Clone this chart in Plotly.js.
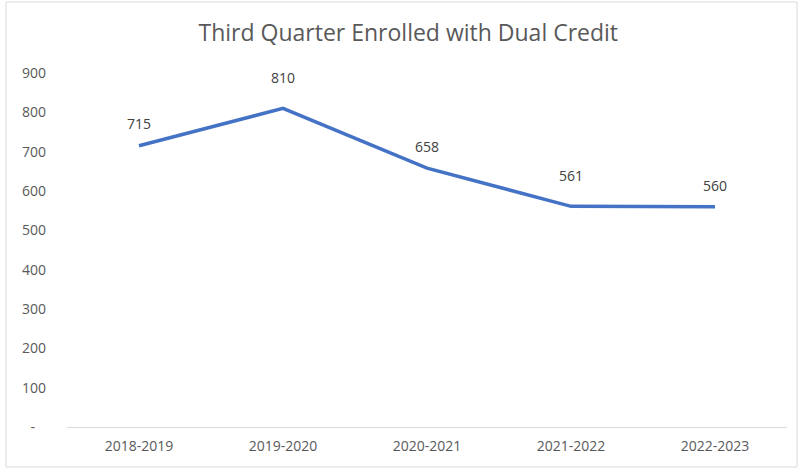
<!DOCTYPE html>
<html><head><meta charset="utf-8">
<script src="https://cdn.plot.ly/plotly-3.0.1.min.js"></script>
<style>html,body{margin:0;padding:0;background:#fff;}#chart{width:799px;height:469px;}</style>
</head><body><div id="chart"></div>
<script>
const categories = ["2018-2019","2019-2020","2020-2021","2021-2022","2022-2023"];
const enrolled = [715, 810, 658, 561, 560];
const yTickVals = [0,100,200,300,400,500,600,700,800,900];
const yTickText = ["-\u00a0\u00a0\u00a0","100","200","300","400","500","600","700","800","900"];

const trace = {
  x: categories, y: enrolled, type: "scatter", mode: "lines+markers+text",
  line: {color: "#4472C4", width: 3.5},
  marker: {size: [20, 34, 18, 34, 18], color: "rgba(0,0,0,0)", line: {width: 0, color: "rgba(0,0,0,0)"}},
  text: enrolled.map(String), textposition: "top center",
  textfont: {family: "Open Sans, sans-serif", size: 14, color: "#404040"},
  cliponaxis: false, hoverinfo: "skip"
};
const layout = {
  width: 799, height: 469,
  margin: {l: 67, r: 12, t: 73, b: 42},
  paper_bgcolor: "#fff", plot_bgcolor: "#fff",
  showlegend: false,
  title: {text: "Third Quarter Enrolled with Dual Credit", x: 0.511, xanchor: "center", y: 0.93, yanchor: "middle",
    font: {family: "Open Sans, sans-serif", size: 23, color: "#595959"}},
  xaxis: {type: "category", range: [-0.5, 4.5], showgrid: false, zeroline: false,
    showline: true, linecolor: "#d9d9d9", linewidth: 1, ticks: "",
    tickfont: {family: "Open Sans, sans-serif", size: 14, color: "#595959"}, ticklabelstandoff: 6},
  yaxis: {range: [0, 900], tickvals: yTickVals, ticktext: yTickText, showgrid: false, zeroline: false,
    showline: false, ticks: "", tickfont: {family: "Open Sans, sans-serif", size: 14, color: "#595959"},
    ticklabelstandoff: 20},
  shapes: [{type: "rect", xref: "x domain", yref: "y domain", x0: -61/720, x1: 1 + 10/720, y0: -40/354, y1: 1 + 71/354,
    line: {color: "#d9d9d9", width: 1}, layer: "below"}]
};
Plotly.newPlot("chart", [trace], layout, {staticPlot: true});
</script></body></html>
